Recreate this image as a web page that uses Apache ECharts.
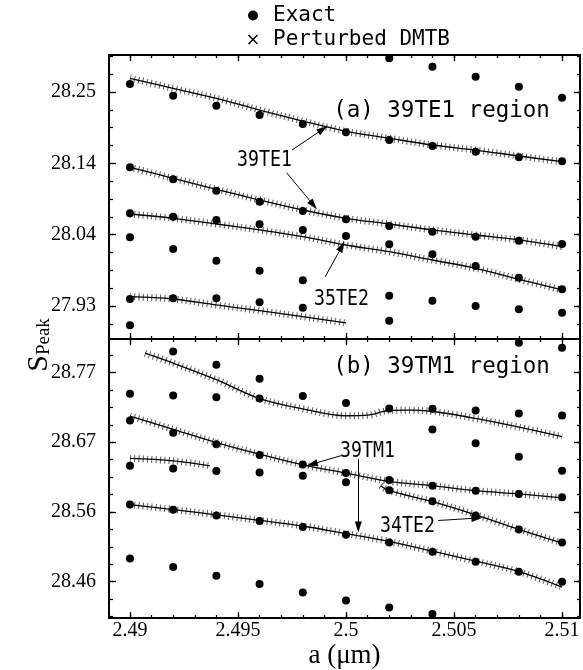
<!DOCTYPE html>
<html><head><meta charset="utf-8">
<script src="https://cdn.jsdelivr.net/npm/echarts@6/dist/echarts.min.js"></script>
<style>html,body{margin:0;padding:0;background:#fff}#c{width:583px;height:670px}</style>
</head><body><div id="c"></div>
<script>
// ---------- axes ----------
const xMajor = [2.49, 2.495, 2.5, 2.505, 2.51];
const xLabels = ['2.49', '2.495', '2.5', '2.505', '2.51'];
const xMinor = [2.49,2.491,2.492,2.493,2.494,2.495,2.496,2.497,2.498,2.499,2.5,2.501,2.502,2.503,2.504,2.505,2.506,2.507,2.508,2.509,2.51];
const yMajorTop = [27.935, 28.04, 28.145, 28.25];
const yLabelsTop = ['27.93', '28.04', '28.14', '28.25'];
const yMinorTop = [27.90875,27.935,27.96125,27.9875,28.01375,28.04,28.06625,28.0925,28.11875,28.145,28.17125,28.1975,28.22375,28.25,28.27625,28.3025];
const yMajorBot = [28.46, 28.565, 28.67, 28.775];
const yLabelsBot = ['28.46', '28.56', '28.67', '28.77'];
const yMinorBot = [28.4075,28.43375,28.46,28.48625,28.5125,28.53875,28.565,28.59125,28.6175,28.64375,28.67,28.69625,28.7225,28.74875,28.775,28.80125];

// ---------- exact solutions (one list per lattice constant) ----------
const aExact = [2.49, 2.492, 2.494, 2.496, 2.498, 2.5, 2.502, 2.504, 2.506, 2.508, 2.51];
const exactTop = [
  [28.2618, 28.1392, 28.0715, 28.0361, 27.9453, 27.9066],
  [28.2446, 28.1215, 28.0665, 28.0189, 27.9463],
  [28.2298, 28.1047, 28.0616, 28.0017, 27.9463],
  [28.2162, 28.0885, 28.0553, 27.9870, 27.9405],
  [28.2029, 28.0748, 28.0469, 27.9728, 27.9325],
  [28.1907, 28.0626, 28.0380],
  [28.2996, 28.1794, 28.0528, 28.0258, 27.9502, 27.9134],
  [28.2872, 28.1705, 28.0444, 28.0111, 27.9428],
  [28.2725, 28.1621, 28.0370, 27.9939, 27.9350],
  [28.2578, 28.1539, 28.0311, 27.9767, 27.9302],
  [28.2416, 28.1480, 28.0263, 27.9596, 27.9251]
];
const exactBottom = [
  [28.7431, 28.7028, 28.6344, 28.5761, 28.4949],
  [28.8064, 28.7402, 28.6844, 28.6305, 28.5682, 28.4819],
  [28.7865, 28.7376, 28.6669, 28.6265, 28.5596, 28.4690],
  [28.7656, 28.7357, 28.6509, 28.6245, 28.5513, 28.4564],
  [28.7397, 28.6365, 28.6195, 28.5423, 28.4436],
  [28.7292, 28.6235, 28.6096, 28.5308, 28.4316],
  [28.7207, 28.6130, 28.5976, 28.5188, 28.4211],
  [28.7203, 28.6893, 28.6045, 28.5812, 28.5049, 28.4111],
  [28.7177, 28.6684, 28.5970, 28.5596, 28.4899],
  [28.8199, 28.7132, 28.6479, 28.5921, 28.5387, 28.4750],
  [28.8124, 28.7102, 28.6269, 28.5871, 28.5188, 28.4600]
];

// ---------- perturbed DMTB curves ----------
const aLine = [2.49, 2.492, 2.494, 2.496, 2.498, 2.5, 2.502, 2.504, 2.506, 2.508, 2.51];
const te1Upper = [28.2702, 28.2554, 28.2407, 28.2235, 28.2073, 28.1922, 28.1819, 28.1720, 28.1646, 28.1558, 28.1474];
const te1Lower = [28.1392, 28.1230, 28.1068, 28.0910, 28.0763, 28.0641, 28.0557, 28.0469, 28.0395, 28.0322, 28.0223];
const te2Cross = [28.0704, 28.0641, 28.0557, 28.0469, 28.0370, 28.0248, 28.0149, 28.0027, 27.9905, 27.9743, 27.9586];
const a35TE2 = [2.49, 2.492, 2.494, 2.496, 2.498, 2.5];
const te35 = [27.9487, 27.9453, 27.9365, 27.9281, 27.9193, 27.9100];

const aWave = [2.4907, 2.492, 2.494, 2.496, 2.498, 2.5, 2.501, 2.502, 2.503, 2.504, 2.505, 2.506, 2.508, 2.51];
const tmWave = [28.8040, 28.7891, 28.7641, 28.7357, 28.7203, 28.7098, 28.7107, 28.7177, 28.7182, 28.7162, 28.7117, 28.7057, 28.6927, 28.6784];
const tm1Upper = [28.7092, 28.6893, 28.6694, 28.6519, 28.6359, 28.6235, 28.6111, 28.6045, 28.5970, 28.5921, 28.5861];
const a34TE2 = [2.5016, 2.502, 2.504, 2.506, 2.508, 2.51];
const te34 = [28.6045, 28.5970, 28.5806, 28.5607, 28.5387, 28.5180];
const aShort = [2.49, 2.492, 2.4937];
const shortLine = [28.6455, 28.6419, 28.6344];
const tm1Lower = [28.5761, 28.5686, 28.5607, 28.5522, 28.5438, 28.5323, 28.5207, 28.5058, 28.4908, 28.4750, 28.4519];

// ---------- build option ----------
const X_MIN = 2.48903, X_MAX = 2.51083;
const Y_TOP = [27.8864, 28.3045];
const Y_BOT = [28.4051, 28.8254];
const SERIF = 'Liberation Serif';
const MONO = 'DejaVu Sans Mono';

function pick(ticks, labels) {
  return v => { const i = ticks.findIndex(t => Math.abs(t - v) < 1e-6); return i >= 0 ? labels[i] : ''; };
}
function xAx(g, pos, ticks, len, main, labels) {
  const o = {
    gridIndex: g, type: 'value', min: X_MIN, max: X_MAX, position: pos,
    axisLine: { show: main, onZero: false, lineStyle: { color: '#000', width: 2 } },
    axisTick: { show: true, inside: true, length: len, customValues: ticks, lineStyle: { color: '#000', width: 1.3 } },
    axisLabel: { show: !!labels, customValues: ticks, color: '#000', fontFamily: SERIF, fontSize: 20, margin: 3,
      formatter: labels ? pick(xMajor, xLabels) : '' },
    splitLine: { show: false }
  };
  if (labels) {
    o.name = 'a (\u03bcm)'; o.nameLocation = 'middle'; o.nameGap = 18;
    o.nameTextStyle = { fontFamily: SERIF, fontSize: 27, color: '#000', verticalAlign: 'top' };
  }
  return o;
}
function yAx(g, pos, range, ticks, len, main, majors, labels) {
  return {
    gridIndex: g, type: 'value', min: range[0], max: range[1], position: pos,
    axisLine: { show: main, onZero: false, lineStyle: { color: '#000', width: 2 } },
    axisTick: { show: true, inside: true, length: len, customValues: ticks, lineStyle: { color: '#000', width: 1.3 } },
    axisLabel: { show: !!labels, customValues: ticks, color: '#000', fontFamily: SERIF, fontSize: 20, margin: 13,
      formatter: labels ? pick(majors, labels) : '' },
    splitLine: { show: false }
  };
}

const xAxis = [
  xAx(0, 'bottom', xMajor, 6, true, null),
  xAx(0, 'bottom', xMinor, 3, false, null),
  xAx(0, 'top', xMajor, 6, true, null),
  xAx(0, 'top', xMinor, 3, false, null),
  xAx(1, 'bottom', xMajor, 6, true, xLabels),
  xAx(1, 'bottom', xMinor, 3, false, null),
  xAx(1, 'top', xMajor, 6, true, null),
  xAx(1, 'top', xMinor, 3, false, null)
];
const yAxis = [
  yAx(0, 'left', Y_TOP, yMajorTop, 7, true, yMajorTop, yLabelsTop),
  yAx(0, 'left', Y_TOP, yMinorTop, 4, false, null, null),
  yAx(0, 'right', Y_TOP, yMajorTop, 6, true, null, null),
  yAx(0, 'right', Y_TOP, yMinorTop, 3, false, null, null),
  yAx(1, 'left', Y_BOT, yMajorBot, 7, true, yMajorBot, yLabelsBot),
  yAx(1, 'left', Y_BOT, yMinorBot, 4, false, null, null),
  yAx(1, 'right', Y_BOT, yMajorBot, 6, true, null, null),
  yAx(1, 'right', Y_BOT, yMinorBot, 3, false, null, null)
];

function exactPoints(cols) {
  const pts = [];
  cols.forEach((col, i) => col.forEach(v => pts.push([aExact[i], v])));
  return pts;
}
function pairs(xs, ys) { return xs.map((x, i) => [x, ys[i]]); }

const arrowStyle = {
  silent: true, symbol: ['none', 'triangle'], symbolSize: [7, 11], animation: false,
  itemStyle: { color: '#000', opacity: 1 },
  lineStyle: { color: '#000', width: 1, type: 'solid', opacity: 1 }, label: { show: false }, emphasis: { disabled: true }
};

const series = [];
series.push({
  name: 'Exact', type: 'scatter', xAxisIndex: 0, yAxisIndex: 0, symbol: 'circle', symbolSize: 8,
  itemStyle: { color: '#000', opacity: 1 }, z: 5, data: exactPoints(exactTop),
  markLine: Object.assign({}, arrowStyle, { data: [
    [{ coord: [2.4975, 28.1646] }, { coord: [2.49892, 28.1951] }],
    [{ coord: [2.49725, 28.1312] }, { coord: [2.49849, 28.0837] }],
    [{ coord: [2.49903, 27.9777] }, { coord: [2.49981, 28.0226] }]
  ] })
});
series.push({
  name: 'Exact', type: 'scatter', xAxisIndex: 4, yAxisIndex: 4, symbol: 'circle', symbolSize: 8,
  itemStyle: { color: '#000', opacity: 1 }, z: 5, data: exactPoints(exactBottom),
  markLine: Object.assign({}, arrowStyle, { data: [
    [{ coord: [2.49977, 28.6497] }, { coord: [2.49843, 28.6370] }],
    [{ coord: [2.50057, 28.6444] }, { coord: [2.50057, 28.5423] }],
    [{ coord: [2.50427, 28.5521] }, { coord: [2.50606, 28.5557] }]
  ] })
});

const curves = [
  [0, aLine, te1Upper], [0, aLine, te1Lower], [0, aLine, te2Cross], [0, a35TE2, te35],
  [1, aWave, tmWave], [1, aLine, tm1Upper], [1, a34TE2, te34], [1, aShort, shortLine], [1, aLine, tm1Lower]
];
curves.forEach(([g, xs, ys]) => {
  const ax = g === 0 ? 0 : 4;
  const d = pairs(xs, ys);
  // '+' markers drawn as perpendicular hatch along the curve
  series.push({
    name: 'Perturbed DMTB (markers)', type: 'line', xAxisIndex: ax, yAxisIndex: ax, data: d,
    smooth: 0.35, showSymbol: false, symbol: 'none', silent: true, z: 3,
    lineStyle: { color: '#5a5a5a', width: 7, type: [1, 3.3], cap: 'butt' }
  });
  series.push({
    name: 'Perturbed DMTB', type: 'line', xAxisIndex: ax, yAxisIndex: ax, data: d,
    smooth: 0.35, showSymbol: false, symbol: 'none', silent: true, z: 4,
    itemStyle: { color: '#000' }, lineStyle: { color: '#000', width: 1.3 }
  });
});

const txt = (text, x, y, size, sx) => ({
  type: 'text', x: x, y: y, scaleX: sx, z: 100,
  style: { text: text, fontFamily: MONO, fontSize: size, fill: '#000', align: 'center', verticalAlign: 'middle' }
});

const option = {
  animation: false,
  backgroundColor: '#fff',
  grid: [
    { left: 109, top: 55, width: 471, height: 284 },
    { left: 109, top: 339, width: 471, height: 281 }
  ],
  xAxis: xAxis,
  yAxis: yAxis,
  legend: {
    orient: 'vertical', left: 243, top: 0, itemGap: 3, itemWidth: 10, itemHeight: 10,
    selectedMode: false,
    textStyle: { fontFamily: MONO, fontSize: 21, color: '#000', padding: [0, 0, 0, 10] },
    data: [
      { name: 'Exact', icon: 'circle', itemStyle: { color: '#000', opacity: 1 } },
      { name: 'Perturbed DMTB', icon: 'path://M1,0L5,4L9,0L10,1L6,5L10,9L9,10L5,6L1,10L0,9L4,5L0,1Z', itemStyle: { color: '#000' } }
    ]
  },
  series: series,
  graphic: [
    txt('(a) 39TE1 region', 441.5, 111, 22.5, 1),
    txt('(b) 39TM1 region', 441.5, 367.5, 22.5, 1),
    txt('39TE1', 264.5, 160, 22, 0.83),
    txt('35TE2', 341.5, 299, 22, 0.83),
    txt('39TM1', 367.5, 451.5, 22, 0.83),
    txt('34TE2', 407.5, 526.5, 22, 0.83),
    {
      type: 'text', x: 38, y: 345, rotation: Math.PI / 2, z: 100,
      style: {
        text: '{s|S}{p|Peak}', align: 'center', verticalAlign: 'middle', fill: '#000',
        rich: {
          s: { fontFamily: SERIF, fontSize: 30, lineHeight: 32, verticalAlign: 'bottom' },
          p: { fontFamily: SERIF, fontSize: 19, lineHeight: 20, verticalAlign: 'bottom' }
        }
      }
    }
  ]
};
const chart = echarts.init(document.getElementById('c'), null, { renderer: 'canvas' });
chart.setOption(option);
</script></body></html>
